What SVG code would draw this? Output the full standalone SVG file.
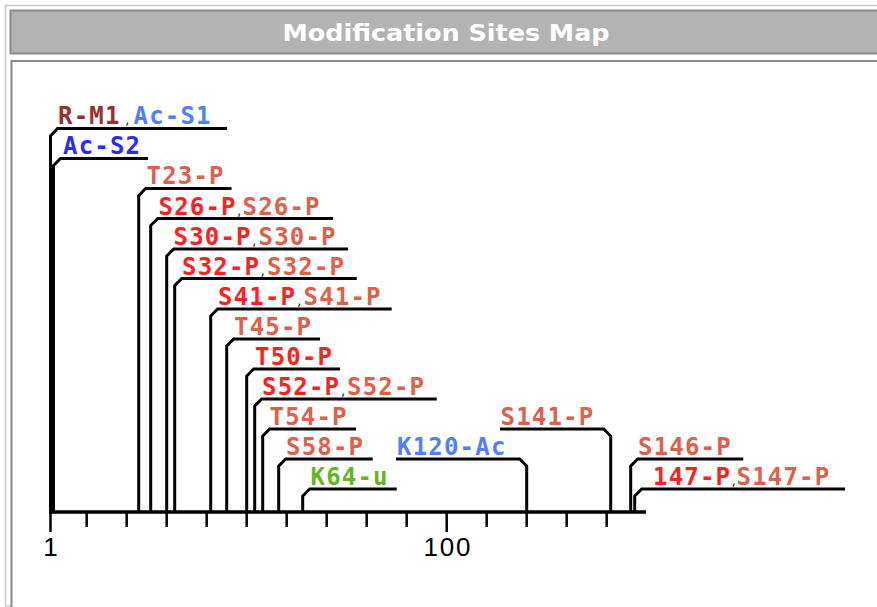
<svg xmlns="http://www.w3.org/2000/svg" width="877" height="607" viewBox="0 0 877 607">
<style>
.lbl{font-family:"DejaVu Sans Mono","Liberation Mono",monospace;font-size:24px;font-weight:bold;letter-spacing:1.2px}
.cm{font-family:"DejaVu Sans",sans-serif;font-size:14px;font-weight:normal;letter-spacing:0;fill:#333}
.r{fill:#ff2020}.s{fill:#e0604a}.dr{fill:#993030}.lb{fill:#5080ff}.b{fill:#2a2aff}.g{fill:#66b622}
.con path{fill:none;stroke:#000;stroke-width:3}
.ax{stroke:#000;stroke-width:2.5}
.num{font-family:"Liberation Sans",sans-serif;font-size:26px;fill:#000}
</style>
<rect width="877" height="607" fill="#fff"/>
<g id="frame">
<rect x="5.5" y="5.5" width="900" height="600.5" fill="none" stroke="#c8c8c8" stroke-width="1.5"/>
<rect x="10.5" y="10.5" width="900" height="43" fill="#b3b3b3" stroke="#8a8a8a" stroke-width="2"/>
<rect x="11.5" y="61" width="900" height="600" fill="#fff" stroke="#8a8a8a" stroke-width="2"/>
<text x="446" y="41" text-anchor="middle" font-family="'DejaVu Sans',Verdana,sans-serif" font-weight="bold" font-size="23" fill="#fff" textLength="327" lengthAdjust="spacingAndGlyphs">Modification Sites Map</text>
</g>
<g id="axis">
<line x1="49" y1="512" x2="646" y2="512" stroke="#000" stroke-width="3.5"/>
<line class="ax" x1="50.5" y1="512" x2="50.5" y2="532"/>
<line class="ax" x1="86.7" y1="512" x2="86.7" y2="527"/>
<line class="ax" x1="126.7" y1="512" x2="126.7" y2="527"/>
<line class="ax" x1="166.7" y1="512" x2="166.7" y2="527"/>
<line class="ax" x1="206.7" y1="512" x2="206.7" y2="527"/>
<line class="ax" x1="246.7" y1="512" x2="246.7" y2="527"/>
<line class="ax" x1="286.7" y1="512" x2="286.7" y2="527"/>
<line class="ax" x1="326.7" y1="512" x2="326.7" y2="527"/>
<line class="ax" x1="366.7" y1="512" x2="366.7" y2="527"/>
<line class="ax" x1="406.7" y1="512" x2="406.7" y2="527"/>
<line class="ax" x1="446.7" y1="512" x2="446.7" y2="532"/>
<line class="ax" x1="486.7" y1="512" x2="486.7" y2="527"/>
<line class="ax" x1="526.7" y1="512" x2="526.7" y2="527"/>
<line class="ax" x1="566.7" y1="512" x2="566.7" y2="527"/>
<line class="ax" x1="606.7" y1="512" x2="606.7" y2="527"/>
<text class="num" x="50.5" y="556" text-anchor="middle">1</text>
<text class="num" x="447" y="556" text-anchor="middle" textLength="47" lengthAdjust="spacing">100</text>
</g>
<g id="connectors" class="con">
<path d="M50.5,512 V136 L57.5,128.5 H227"/>
<path d="M53.5,512 V165.5 L60.5,158.5 H148"/>
<path d="M138.7,512 V195.5 L145.7,188.5 H231.5"/>
<path d="M150.7,512 V225.5 L157.7,218.5 H333"/>
<path d="M166.7,512 V256 L173.7,249 H348"/>
<path d="M174.7,512 V285.5 L181.7,278.5 H356.7"/>
<path d="M210.7,512 V316 L217.7,309 H391.7"/>
<path d="M226.7,512 V346 L233.7,339 H320"/>
<path d="M246.7,512 V376 L253.7,369 H340"/>
<path d="M254.7,512 V406 L261.7,399 H436.7"/>
<path d="M262.7,512 V436 L269.7,429 H356"/>
<path d="M278.7,512 V466 L285.7,459 H372.7"/>
<path d="M302.7,512 V496 L309.7,489 H396.7"/>
<path d="M396,459 H519.7 L526.7,466 V512"/>
<path d="M500,429 H603.7 L610.7,436 V512"/>
<path d="M630.7,512 V466 L637.7,459 H743.3"/>
<path d="M634.7,512 V496 L641.7,489 H845"/>
</g>
<g id="site-M1-S1"><text class="lbl" y="124"><tspan class="dr" x="58">R-M1</tspan><tspan class="cm" x="125">,</tspan><tspan class="lb" x="133.5">Ac-S1</tspan></text></g>
<g id="site-S2"><text class="lbl b" x="63" y="154">Ac-S2</text></g>
<g id="site-T23"><text class="lbl s" x="146.5" y="184">T23-P</text></g>
<g id="site-S26"><text class="lbl" y="214.5"><tspan class="r" x="158.5">S26-P</tspan><tspan class="cm" x="237">,</tspan><tspan class="s" x="242.5">S26-P</tspan></text></g>
<g id="site-S30"><text class="lbl" y="245"><tspan class="r" x="173.5">S30-P</tspan><tspan class="cm" x="252">,</tspan><tspan class="s" x="258.5">S30-P</tspan></text></g>
<g id="site-S32"><text class="lbl" y="274.5"><tspan class="r" x="182">S32-P</tspan><tspan class="cm" x="260.5">,</tspan><tspan class="s" x="267">S32-P</tspan></text></g>
<g id="site-S41"><text class="lbl" y="305"><tspan class="r" x="218">S41-P</tspan><tspan class="cm" x="297">,</tspan><tspan class="s" x="303.5">S41-P</tspan></text></g>
<g id="site-T45"><text class="lbl s" x="234" y="335">T45-P</text></g>
<g id="site-T50"><text class="lbl r" x="255" y="365">T50-P</text></g>
<g id="site-S52"><text class="lbl" y="395"><tspan class="r" x="262">S52-P</tspan><tspan class="cm" x="341">,</tspan><tspan class="s" x="347">S52-P</tspan></text></g>
<g id="site-T54"><text class="lbl s" x="269.5" y="425">T54-P</text></g>
<g id="site-S58"><text class="lbl s" x="286" y="455">S58-P</text></g>
<g id="site-K64"><text class="lbl g" x="310.5" y="485">K64-u</text></g>
<g id="site-K120"><text class="lbl lb" x="397" y="455">K120-Ac</text></g>
<g id="site-S141"><text class="lbl s" x="500.5" y="425">S141-P</text></g>
<g id="site-S146"><text class="lbl s" x="638" y="455">S146-P</text></g>
<g id="site-S147"><text class="lbl" y="485"><tspan class="r" x="653">147-P</tspan><tspan class="cm" x="731.5">,</tspan><tspan class="s" x="736.5">S147-P</tspan></text></g>
</svg>
